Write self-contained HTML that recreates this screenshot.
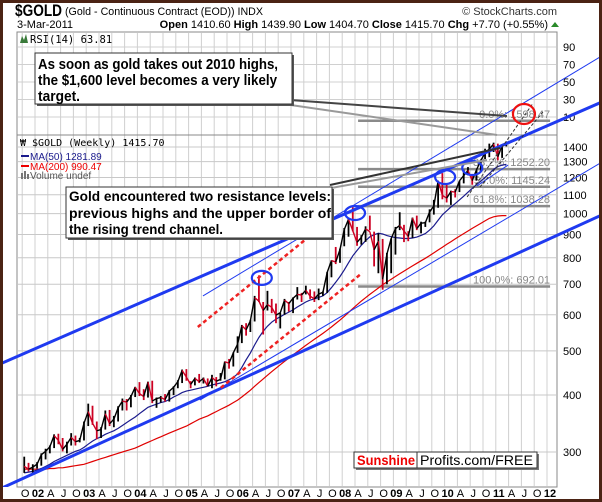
<!DOCTYPE html>
<html><head><meta charset="utf-8"><style>
html,body{margin:0;padding:0;background:#fff;}
svg{display:block;font-family:"Liberation Sans",sans-serif;}
</style></head><body>
<svg id="c" width="602" height="502" viewBox="0 0 602 502" xmlns="http://www.w3.org/2000/svg">
<defs>
<clipPath id="plotclip"><rect x="0" y="32" width="602" height="455"/></clipPath>
<clipPath id="priceclip"><rect x="17" y="135" width="540" height="352"/></clipPath>
</defs>
<rect x="0" y="0" width="602" height="502" fill="#fff"/>
<g id="grid"></g>
<rect x="17" y="32" width="540" height="455" fill="none" stroke="#888" stroke-width="1"/>
<line x1="17" y1="135" x2="557" y2="135" stroke="#888"/>
<g id="axes"></g>
<g id="fib"></g>
<g id="series" clip-path="url(#priceclip)"></g>
<g id="ann" clip-path="url(#plotclip)"></g>

<!-- header -->
<text x="15" y="16" font-size="17" font-weight="bold" textLength="47" lengthAdjust="spacingAndGlyphs">$GOLD</text>
<text x="65" y="15" font-size="11" textLength="198" lengthAdjust="spacingAndGlyphs">(Gold - Continuous Contract (EOD)) INDX</text>
<text x="557" y="15" font-size="11" text-anchor="end" fill="#333">© StockCharts.com</text>
<text x="17" y="28" font-size="11">3-Mar-2011</text>
<text x="548" y="28" font-size="11" text-anchor="end"><tspan font-weight="bold">Open</tspan> 1410.60 <tspan font-weight="bold">High</tspan> 1439.90 <tspan font-weight="bold">Low</tspan> 1404.70 <tspan font-weight="bold">Close</tspan> 1415.70 <tspan font-weight="bold">Chg</tspan> +7.70 (+0.55%)</text>
<polygon points="551,27 555,22 559,27" fill="#2a8a2a"/>

<!-- RSI legend -->
<path d="M20 43 L22 36 L24 40 L26 34 L28 43 Z" fill="#3a7a3a"/>
<text x="30" y="43" font-size="10.5" font-family="DejaVu Sans Mono, monospace">RSI(14) 63.81</text>

<!-- price legend -->
<g>
<text x="20" y="146" font-size="10" font-family="DejaVu Sans Mono, monospace">₩ $GOLD (Weekly) 1415.70</text>
<line x1="21" y1="156" x2="29" y2="156" stroke="#1a1a8c" stroke-width="2"/>
<text x="30" y="160" font-size="10" fill="#1a1a8c">MA(50) 1281.89</text>
<line x1="21" y1="166" x2="29" y2="166" stroke="#e00" stroke-width="2"/>
<text x="30" y="170" font-size="10" fill="#e00">MA(200) 990.47</text>
<rect x="21" y="173" width="2" height="6" fill="#777"/><rect x="24" y="171" width="2" height="8" fill="#777"/><rect x="27" y="174" width="2" height="5" fill="#777"/>
<text x="30" y="179" font-size="10" fill="#555">Volume undef</text>
</g>

<!-- callout pointers -->
<g>
<line x1="270" y1="102" x2="497" y2="135" stroke="#999" stroke-width="2"/>
<line x1="290" y1="100" x2="507" y2="116" stroke="#444" stroke-width="2"/>
<line x1="320" y1="190" x2="487" y2="160" stroke="#999" stroke-width="2"/>
<line x1="330" y1="185" x2="500" y2="148" stroke="#333" stroke-width="2"/>
</g>

<!-- callout boxes -->
<g>
<rect x="37" y="55" width="257" height="51" fill="#555"/>
<rect x="35" y="53" width="257" height="51" fill="#fff" stroke="#333" stroke-width="1"/>
<text x="38" y="69" font-size="15" font-weight="bold" textLength="240" lengthAdjust="spacingAndGlyphs">As soon as gold takes out 2010 highs,</text>
<text x="38" y="85" font-size="15" font-weight="bold" textLength="239" lengthAdjust="spacingAndGlyphs">the $1,600 level becomes a very likely</text>
<text x="38" y="101" font-size="15" font-weight="bold" textLength="42" lengthAdjust="spacingAndGlyphs">target.</text>
</g>
<g>
<rect x="68" y="189" width="266" height="51" fill="#555"/>
<rect x="66" y="187" width="266" height="51" fill="#fff" stroke="#333" stroke-width="1"/>
<text x="69" y="201" font-size="14" font-weight="bold" textLength="262" lengthAdjust="spacingAndGlyphs">Gold encountered two resistance levels:</text>
<text x="69" y="218" font-size="14" font-weight="bold" textLength="262" lengthAdjust="spacingAndGlyphs">previous highs and the upper border of</text>
<text x="69" y="234" font-size="14" font-weight="bold" textLength="154" lengthAdjust="spacingAndGlyphs">the rising trend channel.</text>
</g>

<!-- Sunshine box -->
<g>
<rect x="356" y="454" width="183" height="16" fill="#777"/>
<rect x="354" y="452" width="183" height="16" fill="#fff" stroke="#333"/>
<line x1="417" y1="452" x2="417" y2="468" stroke="#333"/>
<text x="357" y="465" font-size="14" font-weight="bold" fill="#e00" textLength="58" lengthAdjust="spacingAndGlyphs">Sunshine</text>
<text x="420" y="465" font-size="14" fill="#000" textLength="113" lengthAdjust="spacingAndGlyphs">Profits.com/FREE</text>
</g>

<rect x="1.5" y="1.5" width="599" height="499" fill="none" stroke="#4b2314" stroke-width="3"/>
</svg>
<script>
// ---- data ----
const startYear = 2001.79;
const closes = [279,275,278,
282,296,301,308,326,318,304,312,323,316,318,347,
368,347,334,336,364,346,354,375,388,386,397,416,
403,397,427,388,393,395,391,408,416,428,453,438,
422,435,428,435,418,437,429,433,473,470,495,517,
568,556,582,654,643,613,632,623,599,606,646,635,
652,665,663,679,659,650,666,672,743,789,783,834,
923,972,917,865,887,926,913,833,870,718,815,882,
927,942,916,891,979,927,953,955,1008,1040,1179,1097,
1081,1118,1115,1180,1212,1244,1181,1248,1307,1359,1386,1421,
1333,1411,1416];
const highs = [293,284,282,
285,298,305,310,328,329,322,316,330,326,322,350,
383,379,350,340,370,371,360,378,393,392,400,417,
427,412,428,430,395,398,402,410,418,431,455,456,
429,437,445,437,435,443,438,447,474,480,496,538,
570,575,585,660,732,640,677,650,635,606,650,640,
655,690,670,695,682,675,685,675,745,790,845,838,
930,975,1033,935,897,938,990,913,905,880,820,882,
935,1007,945,915,980,990,960,960,1022,1072,1181,1227,
1163,1123,1131,1180,1249,1265,1212,1248,1310,1388,1424,1431,
1424,1411,1440];
const lows = [270,272,270,
276,280,289,298,306,312,301,298,310,310,315,318,
342,344,320,322,336,342,340,350,370,370,376,396,
398,390,395,384,375,385,387,387,400,414,425,430,
414,420,425,424,418,414,418,430,433,457,462,495,
520,540,550,580,640,543,613,605,575,560,600,610,
605,648,640,665,650,640,646,660,670,725,775,780,
848,890,915,850,855,867,920,766,740,681,700,740,
813,920,866,870,885,920,905,935,957,995,1030,1075,
1058,1045,1085,1115,1165,1214,1157,1181,1240,1317,1330,1365,
1309,1325,1404];
const ma50 = [270,271,272,
274,276,279,282,286,289,292,295,298,301,303,307,
312,317,321,324,328,331,334,338,343,348,353,358,
364,370,376,379,382,385,387,391,396,400,405,408,
410,412,414,416,418,421,423,425,428,432,437,445,
460,478,495,515,535,552,566,578,587,594,601,608,
615,624,632,640,646,650,655,660,671,688,707,728,
752,780,808,830,852,872,889,899,906,902,895,890,
886,884,882,882,884,888,896,904,920,940,967,994,
1014,1034,1052,1072,1092,1114,1136,1158,1178,1200,1224,1250,
1268,1278,1282];
const ma200 = [275,275,275,
275,275,275,276,276,277,277,278,279,280,281,282,
284,286,288,290,292,294,296,298,300,302,304,306,
309,312,315,318,321,324,327,330,333,336,339,342,
346,350,354,357,360,364,368,372,376,380,385,390,
396,403,410,418,426,434,442,450,458,466,474,482,
490,498,506,514,522,530,538,546,555,564,574,584,
595,607,619,631,643,654,665,676,687,698,708,718,
728,738,748,758,768,778,788,798,809,820,832,844,
856,868,880,892,904,916,928,940,952,964,976,984,
988,990,990];
const priceTicks = [300,400,500,600,700,800,900,1000,1100,1200,1300,1400];
const rsiTicks = [90,70,50,30,10];
const yearLabels = ['02','03','04','05','06','07','08','09','10','11','12'];
const fibLevels = [1598.47,1252.20,1145.24,1038.28,692.01];
const fibNames = ['0.0%','38.2%','50.0%','61.8%','100.0%'];
const fibRange = [2008.31,2012.06];
// trend lines [t1,p1,t2,p2]
const thickLines = [[2001.316,468,2013.07,1757],[2001.316,249,2013.07,993]];
const thinLines = [[2005.28,660,2013.07,2217],[2005.22,390,2013.07,1297],[2010.63,1150,2011.24,1278]];
const redDashed = [[2005.18,564,2007.27,875],[2005.63,415,2008.39,741]];
const blackDashed = [[2010.44,1088,2011.73,1748],[2010.69,1144,2011.92,1671]];
const blueCircles = [[2006.43,723],[2008.25,1003],[2010.01,1203],[2010.54,1259]];
const redCircles = [[2011.55,1654]];

// ---- scales ----
const X = t => 35 + (t - 2002) * 51.2;
const Y = p => 147 - 198 * Math.log(p / 1400);
const R = v => 47 + (90 - v) * 0.875;
const NS = 'http://www.w3.org/2000/svg';
function mk(tag, attrs, parent){const e=document.createElementNS(NS,tag);for(const k in attrs)e.setAttribute(k,attrs[k]);parent.appendChild(e);return e;}
const grid = document.getElementById('grid');
const axes = document.getElementById('axes');
const fib = document.getElementById('fib');
const series = document.getElementById('series');
const ann = document.getElementById('ann');

// vertical quarter gridlines + labels
for (let y = 2001; y <= 2012; y++) {
  for (let q = 0; q < 4; q++) {
    const t = y + q * 0.25;
    const x = X(t);
    if (x < 18 || x > 556) continue;
    const gl = mk('line', {x1:x, y1:33, x2:x, y2:486, stroke:'#d0d0d0', 'stroke-width':1}, grid);
    
    
    const lab = q === 0 ? yearLabels[y - 2002] : ['', 'A', 'J', 'O'][q];
    if (!lab) continue;
    const tx = mk('text', {x:x + 3, y:497, 'font-size':11, 'text-anchor':'middle', fill:'#000'}, axes);
    if (q === 0) tx.setAttribute('font-weight', 'bold');
    tx.textContent = lab;
    
    
  }
}
// price gridlines
priceTicks.forEach(p => {
  const y = Y(p);
  const gl = mk('line', {x1:18, y1:y, x2:556, y2:y, stroke:'#c8c8c8', 'stroke-width':1}, grid);
  
  
  const tx = mk('text', {x:563, y:y + 4, 'font-size':11}, axes);
  tx.textContent = p;
  
  
});
// RSI gridlines
rsiTicks.forEach(v => {
  const y = R(v);
  const gl = mk('line', {x1:18, y1:y, x2:556, y2:y, stroke:'#d0d0d0', 'stroke-width':1}, grid);
  
  
  const tx = mk('text', {x:563, y:y + 4, 'font-size':11}, axes);
  tx.textContent = v;
  
  
});

// fibonacci
fibLevels.forEach((v, i) => {
  const y = Y(v);
  const l = mk('line', {x1:X(fibRange[0]), y1:y, x2:X(fibRange[1]), y2:y, stroke:'#8a8a8a', 'stroke-width':2.5}, fib);
  
  
  const tx = mk('text', {x:X(fibRange[1]), y:y - 3, 'font-size':11, 'text-anchor':'end', fill:'#888'}, fib);
  tx.textContent = fibNames[i] + ': ' + v.toFixed(2);
  
  
});

// series
const T = i => startYear + i / 12;
function poly(arr, color, w, name){
  const pts = arr.map((v,i) => X(T(i)).toFixed(1) + ',' + Y(v).toFixed(1)).join(' ');
  const pl = mk('polyline', {points:pts, fill:'none', stroke:color, 'stroke-width':w}, series);
  
  
}
poly(ma200, '#e00000', 1.2, 'ma200-line');
poly(ma50, '#1a1a8c', 1.2, 'ma50-line');
for (let i = 0; i < closes.length; i++) {
  const down = i > 0 && closes[i] < closes[i-1];
  const bar = mk('line', {x1:X(T(i)), y1:Y(lows[i]), x2:X(T(i)), y2:Y(highs[i]),
    stroke: down ? '#cc0022' : '#000', 'stroke-width':1.8}, series);
  
  
}
for (let i = 1; i < closes.length; i++) {
  const seg = mk('line', {x1:X(T(i-1)), y1:Y(closes[i-1]), x2:X(T(i)), y2:Y(closes[i]),
    stroke: closes[i] < closes[i-1] ? '#cc0022' : '#000', 'stroke-width':1.4}, series);
  
  
}

// annotations
function tline(d, color, w, dash, name){
  const l = mk('line', {x1:X(d[0]), y1:Y(d[1]), x2:X(d[2]), y2:Y(d[3]), stroke:color, 'stroke-width':w}, ann);
  if (dash) l.setAttribute('stroke-dasharray', dash);
  
  
}
thickLines.forEach(d => tline(d, '#1f3af0', 3, null, 'trend-line-thick'));
thinLines.forEach(d => tline(d, '#1f3af0', 1, null, 'trend-line-thin'));
redDashed.forEach(d => tline(d, '#ee2222', 2.5, '4,3', 'red-dashed-trend'));
blackDashed.forEach(d => tline(d, '#333', 1, '3,2', 'black-dashed-trend'));
blueCircles.forEach(c => {
  const e = mk('ellipse', {cx:X(c[0]), cy:Y(c[1]), rx:10, ry:7, fill:'none', stroke:'#1f3af0', 'stroke-width':2.2}, ann);
  
  
});
redCircles.forEach(c => {
  const e = mk('ellipse', {cx:X(c[0]), cy:Y(c[1]), rx:11, ry:10, fill:'none', stroke:'#ee1111', 'stroke-width':2.2}, ann);
  
  
});
</script>
</body></html>
